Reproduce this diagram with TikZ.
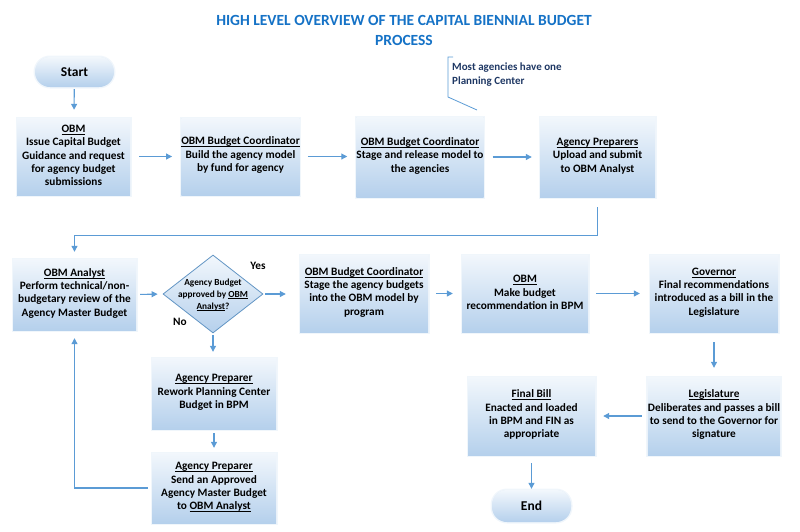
\documentclass[tikz,border=0pt]{standalone}
\usepackage{fontspec}
\setmainfont{Carlito}
\usetikzlibrary{arrows.meta,shapes.geometric}
\definecolor{arrowblue}{HTML}{5B9BD5}
\definecolor{titleblue}{HTML}{1572C6}
\definecolor{boxtop}{HTML}{F2F7FC}
\definecolor{boxbot}{HTML}{B5D0EC}
\definecolor{navy}{HTML}{1F3864}
\newcommand\ulb[1]{\underline{\smash{#1}\vphantom{x}}}
\tikzset{
  stepbox/.style={rectangle, inner sep=0pt, align=center, font=\bfseries\fontsize{11.3}{13.3}\selectfont,
    top color=boxtop, bottom color=boxbot, draw=none,
    preaction={fill=boxbot, fill opacity=0.25, draw=boxbot, draw opacity=0.2, line width=3pt}},
  termbox/.style={rectangle, rounded corners=15pt, align=center, font=\bfseries\fontsize{13.5}{15}\selectfont,
    top color=boxtop, bottom color=boxbot, draw=none,
    preaction={fill=boxbot, fill opacity=0.25, draw=boxbot, draw opacity=0.2, line width=3pt, rounded corners=15pt}},
  arr/.style={draw=arrowblue, line width=1.1pt, -{Triangle[length=6pt,width=6pt]}},
  lbl/.style={font=\bfseries\fontsize{11.3}{13}\selectfont}
}
\begin{document}
\begin{tikzpicture}[x=1pt,y=-1pt]
\useasboundingbox (0,0) rectangle (800,531);
% title
\node[font=\bfseries\fontsize{15.5}{20}\selectfont, text=titleblue, align=center] (title) at (404,30)
  {HIGH LEVEL OVERVIEW OF THE CAPITAL BIENNIAL BUDGET\\PROCESS};
% start
\node[termbox, minimum width=79pt, minimum height=30pt] (start) at (74.5,72) {Start};
% row 1
\node[stepbox, minimum width=113pt, minimum height=77pt] (obm) at (73.5,156.5)
  {\ulb{OBM}\\Issue Capital Budget\\Guidance and request\\for agency budget\\submissions};
\node[stepbox, minimum width=115pt, minimum height=77pt] (bc1) at (240.5,156.5)
  {\ulb{OBM Budget Coordinator}\\Build the agency model\\by fund for agency};
\node[stepbox, minimum width=126pt, minimum height=80pt] (bc2) at (420,157)
  {\ulb{OBM Budget Coordinator}\\Stage and release model to\\the agencies};
\node[stepbox, minimum width=115pt, minimum height=80pt] (ap) at (597.5,157)
  {\ulb{Agency Preparers}\\Upload and submit\\to OBM Analyst};
% annotation
\coordinate (n1) at (453,57);
\coordinate (n2) at (448,57);
\coordinate (n3) at (448,97);
\coordinate (n4) at (477,110);
\draw[arrowblue, line width=0.8pt] (n1) -- (n2) -- (n3) -- (n4);
\node[anchor=north west, align=left, text=navy, inner sep=0pt, font=\bfseries\fontsize{11}{13.5}\selectfont] (note) at (452,63)
  {Most agencies have one\\Planning Center};
% row 2
\node[stepbox, minimum width=123pt, minimum height=71pt] (an) at (74.5,294.5)
  {\ulb{OBM Analyst}\\Perform technical/non-\\budgetary review of the\\Agency Master Budget};
\node[diamond, minimum width=100pt, minimum height=78pt, inner sep=0pt, draw=arrowblue!80!gray, line width=0.8pt,
  top color=boxtop, bottom color=boxbot] (dec) at (213,294) {};
\node[align=center, font=\bfseries\fontsize{9.3}{11.8}\selectfont, inner sep=0pt] (dectext) at (213,295)
  {Agency Budget\\approved by \ulb{OBM}\\\ulb{Analyst}?};
\node[lbl] (yes) at (258,266) {Yes};
\node[lbl] (no) at (180,322) {No};
\node[stepbox, minimum width=128pt, minimum height=77pt] (bc3) at (364,293.5)
  {\ulb{OBM Budget Coordinator}\\Stage the agency budgets\\into the OBM model by\\program};
\node[stepbox, minimum width=126pt, minimum height=77pt] (obm2) at (525,293.5)
  {\ulb{OBM}\\Make budget\\recommendation in BPM};
\node[stepbox, minimum width=128pt, minimum height=77pt] (gov) at (714,293.5)
  {\ulb{Governor}\\Final recommendations\\introduced as a bill in the\\Legislature};
% row 3
\node[stepbox, minimum width=124pt, minimum height=71pt] (p1) at (214,393.5)
  {\ulb{Agency Preparer}\\Rework Planning Center\\Budget in BPM};
\node[stepbox, minimum width=124pt, minimum height=70pt] (p2) at (214,488)
  {\ulb{Agency Preparer}\\Send an Approved\\Agency Master Budget\\to \ulb{OBM Analyst}};
\node[stepbox, minimum width=127pt, minimum height=78pt] (fb) at (531.5,416)
  {\ulb{Final Bill}\\Enacted and loaded\\in BPM and FIN as\\appropriate};
\node[stepbox, minimum width=130pt, minimum height=78pt] (leg) at (714,416)
  {\ulb{Legislature}\\Deliberates and passes a bill\\to send to the Governor for\\signature};
\node[termbox, minimum width=79pt, minimum height=32pt] (end) at (531.5,506) {End};
% connectors
\draw[arr, shorten <=2pt, shorten >=8pt] (start) -- (obm);
\draw[arr, shorten <=9pt, shorten >=9pt] (obm.east) -- (bc1.west |- obm.east);
\draw[arr, shorten <=8pt, shorten >=9pt] (bc1.east) -- (bc2.west |- bc1.east);
\draw[arr, shorten <=9pt, shorten >=8pt] (bc2) -- (ap);
\draw[arr, shorten <=10pt, shorten >=7pt] (ap.south) -- ++(0,38) -| (an.north);
\draw[arr, shorten <=4pt, shorten >=5pt] (an.east) -- (dec.west);
\draw[arr, shorten <=2pt, shorten >=14pt] (dec.east) -- (bc3.west |- dec.east);
\draw[arr, shorten <=8pt, shorten >=9pt] (bc3.east) -- (obm2.west |- bc3.east);
\draw[arr, shorten <=8pt, shorten >=10pt] (obm2) -- (gov);
\draw[arr, shorten <=2pt, shorten >=6pt] (dec.south) -- (p1.north -| dec.south);
\draw[arr, shorten <=4pt, shorten >=5pt] (p1) -- (p2);
\draw[arr, shorten <=4pt, shorten >=8pt] (p2.west) -| (an.south);
\draw[arr, shorten <=10pt, shorten >=9pt] (gov) -- (leg);
\draw[arr, shorten <=6pt, shorten >=8pt] (leg) -- (fb);
\draw[arr, shorten <=8pt, shorten >=1pt] (fb) -- (end);
\end{tikzpicture}
\end{document}
